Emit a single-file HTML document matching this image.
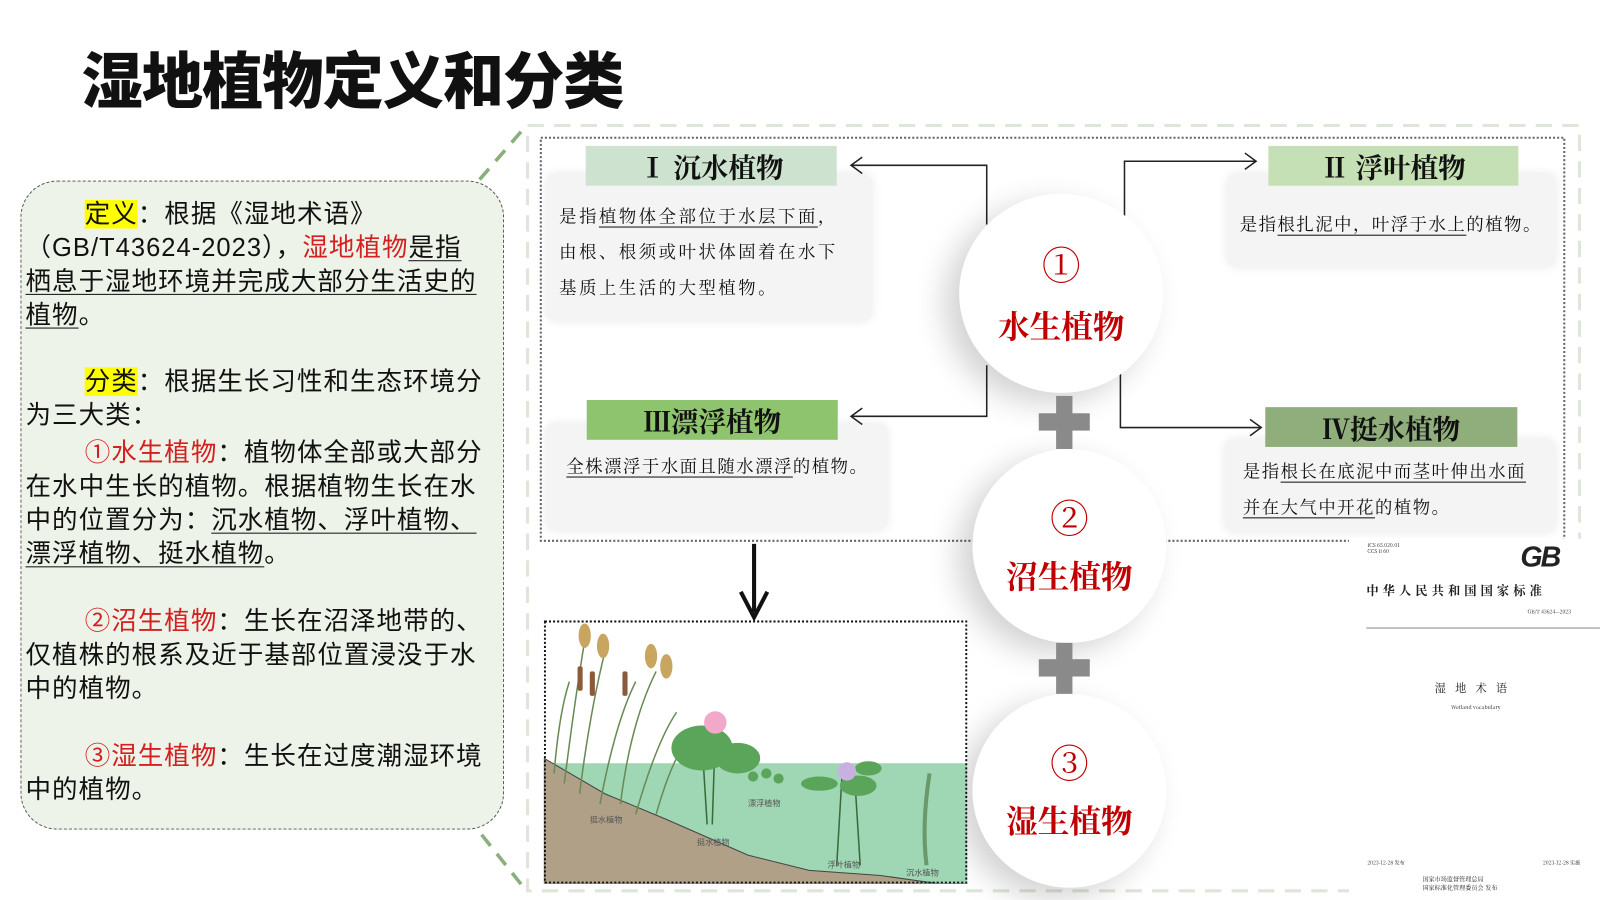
<!DOCTYPE html>
<html><head><meta charset="utf-8">
<style>
*{margin:0;padding:0;box-sizing:border-box}
html,body{width:1600px;height:900px;overflow:hidden;background:#fff}
#w{position:absolute;left:0;top:0;width:1568px;height:882px;transform:scale(1.0204);transform-origin:0 0;font-family:"Liberation Sans","Noto Sans CJK SC",sans-serif}
.a{position:absolute}
.ln{position:absolute;left:25px;font-size:25px;line-height:32px;color:#111;white-space:nowrap;letter-spacing:1px}
.r{color:#d42020}
.y{background:#ffff00}
.u{text-decoration:underline;text-underline-offset:4px;text-decoration-thickness:1px}
.hd{position:absolute;font-family:"Noto Serif CJK SC",serif;font-weight:bold;font-size:27px;text-align:center;line-height:39px;color:#111}
.card{position:absolute;background:#f4f4f4;border-radius:10px;box-shadow:0 0 10px rgba(0,0,0,0.08)}
.ct{position:absolute;font-family:"Noto Serif CJK SC",serif;font-size:17px;color:#111;white-space:nowrap;letter-spacing:2.5px}
.circ{position:absolute;border-radius:50%;background:#fff;box-shadow:-14px 10px 30px rgba(0,0,0,0.18)}
.cn{position:absolute;width:100%;text-align:center;font-family:"Noto Serif CJK SC",serif;color:#c00000}
</style></head><body><div id="w">

<div class="a" style="left:80px;top:38px;font-size:60px;font-weight:900;letter-spacing:-1px;font-family:'Noto Sans CJK SC',sans-serif;color:#111;line-height:76px">湿地植物定义和分类</div>

<div class="a" style="left:20px;top:177px;width:474px;height:636px;background:#edf3e8;border:1.5px dashed #555;border-radius:36px"></div>
<div class="ln" style="top:194px;padding-left:58px"><span class="y">定义</span>：根据《湿地术语》</div>
<div class="ln" style="top:227px">（GB/T43624-2023），<span class="r">湿地植物</span><span class="u">是指</span></div>
<div class="ln u" style="top:260px">栖息于湿地环境并完成大部分生活史的</div>
<div class="ln" style="top:293px"><span class="u">植物</span>。</div>
<div class="ln" style="top:358px;padding-left:58px"><span class="y">分类</span>：根据生长习性和生态环境分</div>
<div class="ln" style="top:391px">为三大类：</div>
<div class="ln" style="top:428px;padding-left:58px"><span class="r">①水生植物</span>：植物体全部或大部分</div>
<div class="ln" style="top:461px">在水中生长的植物。根据植物生长在水</div>
<div class="ln" style="top:494px">中的位置分为：<span class="u">沉水植物、浮叶植物、</span></div>
<div class="ln" style="top:527px"><span class="u">漂浮植物、挺水植物</span>。</div>
<div class="ln" style="top:593px;padding-left:58px"><span class="r">②沼生植物</span>：生长在沼泽地带的、</div>
<div class="ln" style="top:626px">仅植株的根系及近于基部位置浸没于水</div>
<div class="ln" style="top:659px">中的植物。</div>
<div class="ln" style="top:725px;padding-left:58px"><span class="r">③湿生植物</span>：生长在过度潮湿环境</div>
<div class="ln" style="top:758px">中的植物。</div>

<svg class="a" style="left:0;top:0" width="1568" height="882">
<line x1="470" y1="176" x2="515" y2="124" stroke="#8aae7c" stroke-width="3.5" stroke-dasharray="14,10"/>
<line x1="472" y1="818" x2="515" y2="872" stroke="#8aae7c" stroke-width="3.5" stroke-dasharray="14,10"/>
<rect x="517" y="123" width="1031" height="750" fill="none" stroke="#dde6d8" stroke-width="3" stroke-dasharray="16,10"/>
<rect x="530" y="135" width="1003" height="395" fill="none" stroke="#666" stroke-width="2" stroke-dasharray="2,2"/>
</svg>

<div class="card" style="left:535px;top:170px;width:320px;height:145px"></div>
<div class="card" style="left:1202px;top:170px;width:323px;height:92px"></div>
<div class="card" style="left:535px;top:415px;width:335px;height:105px"></div>
<div class="card" style="left:1200px;top:430px;width:325px;height:92px"></div>

<div class="hd" style="left:574px;top:143px;width:246px;background:#cde2cf">Ⅰ 沉水植物</div>
<div class="hd" style="left:1243px;top:143px;width:245px;background:#c5e0b4">Ⅱ 浮叶植物</div>
<div class="hd" style="left:575px;top:392px;width:246px;background:#8ec46d">Ⅲ漂浮植物</div>
<div class="hd" style="left:1240px;top:399px;width:247px;background:#8fae7c">Ⅳ挺水植物</div>

<div class="ct" style="left:548px;top:198px">是指<span class="u">植物体全部位于水层下面</span>，</div>
<div class="ct" style="left:548px;top:233px">由根、根须或叶状体固着在水下</div>
<div class="ct" style="left:548px;top:268px">基质上生活的大型植物。</div>
<div class="ct" style="left:1215px;top:206px;letter-spacing:1.5px">是指<span class="u">根扎泥中，叶浮于水上</span>的植物。</div>
<div class="ct" style="left:555px;top:443px;letter-spacing:1.5px"><span class="u">全株漂浮于水面且随水漂浮</span>的植物。</div>
<div class="ct" style="left:1218px;top:448px;letter-spacing:1.5px">是指<span class="u">根长在底泥中而茎叶伸出水面</span></div>
<div class="ct" style="left:1218px;top:483px;letter-spacing:1.5px"><span class="u">并在大气中开花</span>的植物。</div>

<svg class="a" style="left:0;top:0" width="1568" height="882">
<g fill="none" stroke="#222" stroke-width="1.5">
<polyline points="967,220 967,162 834,162"/><polyline points="845,154 834,162 845,170"/>
<polyline points="1102,220 1102,158 1231,158"/><polyline points="1220,150 1231,158 1220,166"/>
<polyline points="967,358 967,408 834,408"/><polyline points="845,400 834,408 845,416"/>
<polyline points="1098,362 1098,419 1236,419"/><polyline points="1225,411 1236,419 1225,427"/>
</g>
<line x1="739" y1="533" x2="739" y2="600" stroke="#111" stroke-width="4"/>
<polyline points="726,580 739,605 752,580" fill="none" stroke="#111" stroke-width="4"/>
</svg>

<div class="circ" style="left:940px;top:190px;width:200px;height:195px">
<div class="cn" style="top:40px;font-size:38px">①</div>
<div class="cn" style="top:105px;font-size:31px;font-weight:bold">水生植物</div></div>
<div class="circ" style="left:953px;top:440px;width:190px;height:190px">
<div class="cn" style="top:38px;font-size:38px">②</div>
<div class="cn" style="top:100px;font-size:31px;font-weight:bold">沼生植物</div></div>
<div class="circ" style="left:953px;top:680px;width:190px;height:190px">
<div class="cn" style="top:38px;font-size:38px">③</div>
<div class="cn" style="top:100px;font-size:31px;font-weight:bold">湿生植物</div></div>

<svg class="a" style="left:0;top:0" width="1568" height="882">
<rect x="1035" y="388" width="16" height="52" fill="#8a8a8a"/><rect x="1018" y="405" width="50" height="17" fill="#8a8a8a"/>
<rect x="1035" y="630" width="16" height="50" fill="#8a8a8a"/><rect x="1018" y="646" width="50" height="17" fill="#8a8a8a"/>
</svg>

<svg class="a" style="left:533px;top:608px" width="415" height="258">
<rect width="415" height="258" fill="#fff"/>
<rect x="0" y="140" width="415" height="118" fill="#9fd6b4"/>
<polygon points="0,135 60,170 120,195 200,230 260,245 330,250 415,262 415,258 0,258" fill="#b0a088" stroke="#444" stroke-width="1"/>
<g stroke="#6a8a55" stroke-width="1.5" fill="none">
<path d="M20,160 Q30,80 40,20"/><path d="M35,170 Q45,90 60,30"/><path d="M55,180 Q70,100 90,60"/><path d="M75,180 Q85,100 110,50"/><path d="M90,190 Q110,120 130,90"/><path d="M10,150 Q15,90 25,60"/><path d="M110,190 Q130,120 150,110"/>
</g>
<g fill="#c9a660"><ellipse cx="40" cy="15" rx="6" ry="12"/><ellipse cx="58" cy="25" rx="6" ry="12"/><ellipse cx="105" cy="35" rx="6" ry="12"/><ellipse cx="120" cy="45" rx="6" ry="12"/></g>
<g fill="#8a5a3a"><rect x="33" y="45" width="5" height="24" rx="2"/><rect x="45" y="50" width="5" height="24" rx="2"/><rect x="77" y="50" width="5" height="24" rx="2"/></g>
<g stroke="#3a6a3a" stroke-width="1.5"><line x1="155" y1="120" x2="160" y2="200"/><line x1="168" y1="110" x2="165" y2="200"/><line x1="292" y1="155" x2="287" y2="240"/><line x1="305" y1="160" x2="310" y2="240"/></g>
<g fill="#5aa55a"><ellipse cx="155" cy="125" rx="30" ry="22"/><ellipse cx="190" cy="135" rx="22" ry="15"/><ellipse cx="270" cy="160" rx="18" ry="7"/><ellipse cx="308" cy="162" rx="18" ry="10"/><ellipse cx="318" cy="145" rx="13" ry="7"/><circle cx="205" cy="153" r="5"/><circle cx="218" cy="150" r="5"/><circle cx="230" cy="155" r="5"/></g>
<circle cx="168" cy="100" r="11" fill="#f2a8c8"/><circle cx="297" cy="148" r="9" fill="#c9b0e0"/>
<path d="M375,240 Q370,200 378,150" stroke="#6a9a6a" stroke-width="4" fill="none"/>
<g font-size="8" fill="#555" font-family="Noto Sans CJK SC"><text x="45" y="198">挺水植物</text><text x="150" y="220">挺水植物</text><text x="200" y="182">漂浮植物</text><text x="278" y="242">浮叶植物</text><text x="355" y="250">沉水植物</text></g>
<rect x="1" y="1" width="413" height="256" fill="none" stroke="#111" stroke-width="2" stroke-dasharray="2,2"/>
</svg>

<div class="a" style="left:1322px;top:528px;width:246px;height:354px;background:#fff;font-family:'Noto Serif CJK SC',serif;color:#222">
<div class="a" style="left:18px;top:4px;font-size:5px;line-height:6px">ICS 65.020.01<br>CCS B 60</div>
<div class="a" style="left:168px;top:2px;font-size:28px;font-weight:900;font-family:'Liberation Sans',sans-serif;font-style:italic;letter-spacing:-2px">GB</div>
<div class="a" style="left:17px;top:42px;font-size:12px;letter-spacing:4px;white-space:nowrap;font-weight:bold">中华人民共和国国家标准</div>
<div class="a" style="left:175px;top:68px;font-size:5px">GB/T 43624—2023</div>
<div class="a" style="left:17px;top:87px;width:229px;height:1px;background:#888"></div>
<div class="a" style="left:84px;top:138px;font-size:11px;letter-spacing:9px">湿地术语</div>
<div class="a" style="left:100px;top:162px;font-size:5px">Wetland vocabulary</div>
<div class="a" style="left:18px;top:314px;font-size:5px">2023-12-28 发布</div>
<div class="a" style="left:190px;top:314px;font-size:5px">2023-12-28 实施</div>
<div class="a" style="left:72px;top:330px;font-size:6px;line-height:8px">国家市场监督管理总局<br>国家标准化管理委员会 发布</div>
</div>
</div></body></html>
